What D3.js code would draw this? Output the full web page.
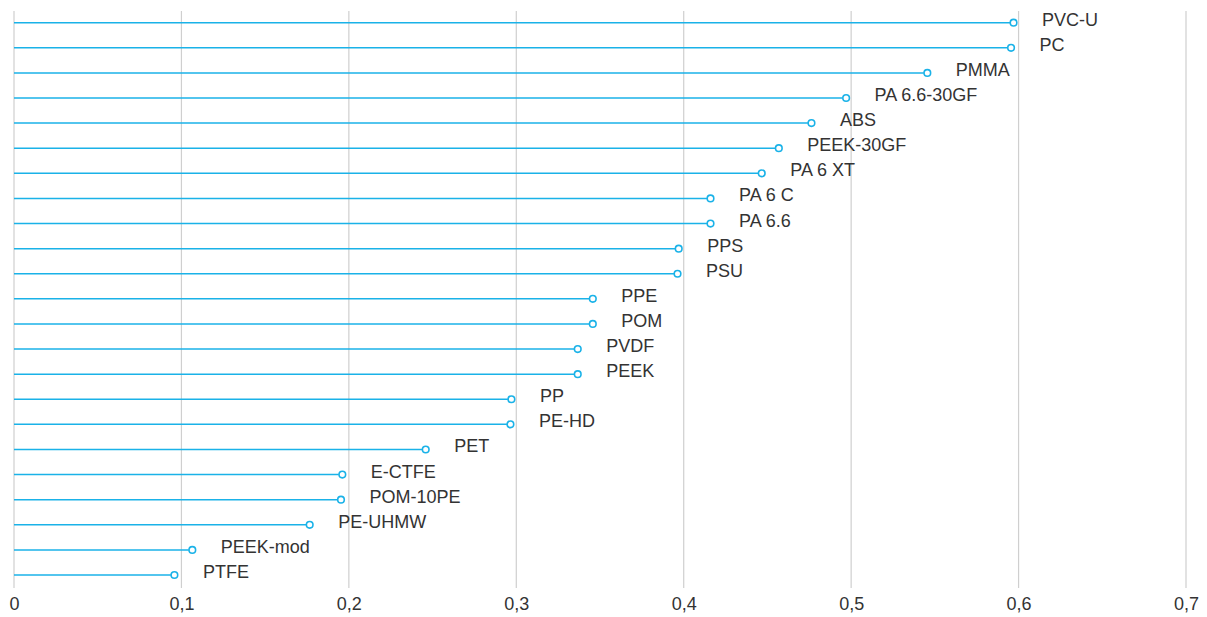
<!DOCTYPE html>
<html>
<head>
<meta charset="utf-8">
<script src="https://cdn.jsdelivr.net/npm/d3@7"></script>
<style>
  body { margin: 0; background: #fff; }
  text { font-family: "Liberation Sans", Arial, sans-serif; }
</style>
</head>
<body>
<div id="chart"></div>
<script>
// materials, top to bottom
let materials = ["PVC-U", "PC", "PMMA", "PA 6.6-30GF", "ABS", "PEEK-30GF", "PA 6 XT",
  "PA 6 C", "PA 6.6", "PPS", "PSU", "PPE", "POM", "PVDF", "PEEK", "PP", "PE-HD",
  "PET", "E-CTFE", "POM-10PE", "PE-UHMW", "PEEK-mod", "PTFE"]
let values = [0.597, 0.5955, 0.5455, 0.497, 0.4763, 0.4568, 0.4466,
  0.416, 0.416, 0.397, 0.3963, 0.3457, 0.3457, 0.3367, 0.3367, 0.2971, 0.2965,
  0.2459, 0.1961, 0.1953, 0.1766, 0.1065, 0.0958]
let ticks = [0, 0.1, 0.2, 0.3, 0.4, 0.5, 0.6, 0.7]

let width = 1207, height = 617
let margin = {top: 10, right: 21, bottom: 29, left: 14}

let data = materials.map((m, i) => ({name: m, value: values[i]}))

let svg = d3.select("#chart")
  .append("svg")
    .attr("width", width)
    .attr("height", height)

let x = d3.scaleLinear()
  .domain([0, 0.7])
  .range([margin.left, width - margin.right])

// row positions
let y = d3.scalePoint()
  .domain(materials)
  .range([22.7, 575])

// vertical grid
svg.append("g")
  .selectAll("line")
  .data(ticks)
  .enter()
  .append("line")
    .attr("x1", d => x(d))
    .attr("x2", d => x(d))
    .attr("y1", 11)
    .attr("y2", 588)
    .attr("stroke", "#cfcfcf")
    .attr("stroke-width", 1.2)

// tick labels
let axis = svg.append("g")
  .attr("transform", "translate(0,588)")
  .call(d3.axisBottom(x).tickValues(ticks).tickSize(0).tickPadding(9)
    .tickFormat(d => d === 0 ? "0" : d3.format(".1f")(d).replace(".", ",")))
axis.select(".domain").remove()
axis.selectAll("text")
  .style("font-family", "'Liberation Sans', Arial, sans-serif")
  .style("font-size", "18px")
  .attr("fill", "#333")

let rows = svg.append("g")
  .selectAll("g")
  .data(data)
  .enter()
  .append("g")

rows.append("line")
  .attr("x1", x(0))
  .attr("x2", d => x(d.value) - 3.5)
  .attr("y1", d => y(d.name))
  .attr("y2", d => y(d.name))
  .attr("stroke", "#1ab2e8")
  .attr("stroke-width", 1.5)

rows.append("circle")
  .attr("cx", d => x(d.value))
  .attr("cy", d => y(d.name))
  .attr("r", 3.3)
  .attr("fill", "#fff")
  .attr("stroke", "#1ab2e8")
  .attr("stroke-width", 1.6)

rows.append("text")
  .attr("x", d => x(d.value) + 28.5)
  .attr("y", d => y(d.name) + 3)
  .style("font-size", "18px")
  .attr("fill", "#333")
  .text(d => d.name)
</script>
</body>
</html>
